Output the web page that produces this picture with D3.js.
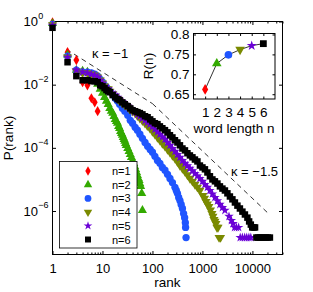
<!DOCTYPE html>
<html>
<head>
<meta charset="utf-8">
<script src="https://d3js.org/d3.v7.min.js"></script>
<style>
  body { margin: 0; background: #fff; }
  svg text { font-family: "Liberation Sans", Arial, Helvetica, sans-serif; fill: #000; }
</style>
</head>
<body>
<div id="chart"></div>
<script>
// ---- data ----
// P(rank) is kept as log10 values, ranks as plain numbers
const seriesLabels = ["n=1", "n=2", "n=3", "n=4", "n=5", "n=6"];
const seriesColors = ["#ff0000", "#33aa00", "#1f55ff", "#7a8a00", "#6a00d6", "#000000"];

const rankN1 = [1, 2, 3, 4, 5, 6, 7, 8];
const logPN1 = [-0.03, -0.97, -1.22, -1.92, -2.02, -2.43, -2.56, -2.84];

const rankN2 = [1, 2, 3, 4, 5, 6, 7, 8, 9, 10, 11, 12, 13, 14, 15, 16, 17, 18, 19, 20,
  21, 22, 23, 24, 25, 26, 27, 28, 29, 30, 32, 34, 36, 38, 40, 42, 44, 46, 48, 50,
  52, 54, 56, 58, 61, 63];
const logPN2 = [-0.06, -1.06, -1.54, -1.57, -1.60, -1.70, -1.83, -1.98, -2.14, -2.27,
  -2.40, -2.52, -2.62, -2.75, -2.84, -2.90, -3.00, -3.10, -3.16, -3.22,
  -3.32, -3.38, -3.48, -3.54, -3.60, -3.67, -3.73, -3.79, -3.86, -3.92,
  -4.02, -4.11, -4.21, -4.30, -4.40, -4.49, -4.59, -4.68, -4.78, -4.87,
  -4.97, -5.03, -5.13, -5.22, -5.44, -5.98];

const rankN3 = [1, 2, 3, 4, 5, 6, 7, 8, 9, 10, 11, 12, 13, 14,
  16, 18, 20, 22, 25, 28, 32, 36, 40, 45,
  50, 56, 63, 71, 80, 90, 100, 112, 126, 141,
  158, 178, 200, 224, 251, 282, 300, 316, 335, 355,
  375, 398, 420, 440, 455, 460, 470];
const logPN3 = [-0.09, -1.10, -1.54, -1.60, -1.60, -1.63, -1.67, -1.73, -1.83, -1.92, -2.02, -2.08, -2.14, -2.21,
  -2.30, -2.43, -2.52, -2.62, -2.75, -2.84, -2.97, -3.13, -3.22, -3.35,
  -3.44, -3.57, -3.70, -3.83, -3.95, -4.05, -4.14, -4.27, -4.40, -4.49,
  -4.62, -4.71, -4.84, -4.97, -5.10, -5.25, -5.35, -5.44, -5.57, -5.67,
  -5.79, -5.92, -6.08, -6.21, -6.37, -6.52, -6.84];

const rankN4 = [1, 2, 3, 4, 5, 6, 7, 8, 9, 10,
  11, 13, 14, 16, 18, 20, 22, 25, 28, 32,
  35, 40, 45, 50, 56, 63, 71, 79, 89, 100,
  112, 126, 141, 158, 178, 200, 224, 251, 282, 316,
  355, 398, 447, 501, 562, 631, 708, 794, 891,
  1023, 1100, 1175, 1260, 1349, 1450, 1549, 1620, 1698, 1780, 1862, 1950, 2050, 2150, 2300];
const logPN4 = [-0.11, -1.13, -1.57, -1.63, -1.63, -1.67, -1.70, -1.76, -1.86, -1.95,
  -2.05, -2.13, -2.21, -2.29, -2.37, -2.44, -2.52, -2.59, -2.65, -2.71,
  -2.78, -2.84, -2.90, -2.98, -3.06, -3.14, -3.22, -3.30, -3.38, -3.48,
  -3.57, -3.67, -3.76, -3.86, -3.95, -4.05, -4.14, -4.24, -4.33, -4.44,
  -4.56, -4.65, -4.75, -4.86, -4.97, -5.06, -5.16, -5.25, -5.35,
  -5.51, -5.60, -5.70, -5.78, -5.86, -5.97, -6.08, -6.17, -6.27, -6.33, -6.40, -6.52, -6.52, -6.84, -6.84];

const rankN5 = [1, 2, 3, 4, 5, 6, 7, 8, 9, 10,
  11, 13, 14, 16, 18, 20, 22, 25, 28, 32,
  35, 40, 45, 50, 56, 63, 71, 79, 89, 100,
  112, 126, 141, 158, 178, 200, 224, 251, 282, 316,
  355, 398, 447, 501, 562, 631, 708, 794, 891, 1000,
  1122, 1259, 1413, 1585, 1778, 1995, 2239, 2512, 2818,
  3400, 3800, 4100, 4400, 4800, 5300, 5700, 6300, 7000, 7700, 8500, 9300];
const logPN5 = [-0.12, -1.13, -1.54, -1.60, -1.63, -1.67, -1.70, -1.76, -1.86, -1.95,
  -2.05, -2.13, -2.21, -2.27, -2.33, -2.40, -2.46, -2.54, -2.62, -2.68,
  -2.75, -2.81, -2.87, -2.94, -3.00, -3.06, -3.13, -3.19, -3.25, -3.33,
  -3.41, -3.49, -3.57, -3.65, -3.73, -3.83, -3.92, -4.02, -4.11, -4.21,
  -4.30, -4.40, -4.49, -4.57, -4.65, -4.73, -4.81, -4.89, -4.97, -5.06,
  -5.16, -5.25, -5.35, -5.46, -5.57, -5.68, -5.79, -5.89, -5.98,
  -6.17, -6.30, -6.40, -6.52, -6.52, -6.52, -6.84, -6.84, -6.84, -6.84, -6.84, -6.84];

const rankN6 = [1, 2, 3, 4, 5, 6, 7, 8, 9, 10, 11, 12, 13, 14,
  16, 18, 20, 22, 25, 28, 32, 36, 40, 45, 50, 56, 63, 71, 80, 90,
  100, 112, 126, 141, 158, 178, 200, 224, 251, 282, 316, 355, 398, 447, 501, 562, 631, 708, 794, 891,
  1000, 1122, 1259, 1413, 1585, 1778, 1995, 2239, 2512, 2818, 3162, 3548, 3981, 4467, 5012, 5623, 6310, 7079, 7943,
  8600, 9300, 9900, 10600, 11300,
  12000, 13000, 14200, 15500, 17000, 18600, 20400, 22400];
const logPN6 = [-0.20, -1.29, -1.73, -1.86, -1.86, -1.89, -1.89, -1.92, -2.02, -2.05, -2.11, -2.17, -2.21, -2.24,
  -2.33, -2.40, -2.46, -2.49, -2.56, -2.62, -2.68, -2.75, -2.81, -2.84, -2.87, -2.90, -2.94, -3.00, -3.03, -3.10,
  -3.16, -3.22, -3.25, -3.32, -3.38, -3.44, -3.51, -3.60, -3.67, -3.76, -3.83, -3.92, -4.02, -4.08, -4.17, -4.24, -4.30, -4.37, -4.43, -4.56,
  -4.62, -4.68, -4.78, -4.90, -5.00, -5.06, -5.13, -5.22, -5.29, -5.35, -5.44, -5.54, -5.63, -5.73, -5.83, -5.92, -6.02, -6.11, -6.21,
  -6.33, -6.43, -6.52, -6.52, -6.52,
  -6.84, -6.84, -6.84, -6.84, -6.84, -6.84, -6.84, -6.84];

// dashed reference slopes
const kappa1Rank = [1.9, 100];
const kappa1P = [0.132, 0.00251];
const kappa15Rank = [100, 20000];
const kappa15P = [0.00251, 8.9e-7];

// inset
const wordLength = [1, 2, 3, 4, 5, 6];
const ratioR = [0.662, 0.727, 0.749, 0.762, 0.772, 0.777];

const xMajor = [1, 10, 100, 1000, 10000];
const yMajor = [1, 1e-2, 1e-4, 1e-6];
const yLabelExp = ["0", "\u22122", "\u22124", "\u22126"];
const insetYTicks = [0.65, 0.7, 0.75, 0.8];
const insetYLabels = ["0.65", "0.7", "0.75", "0.8"];

// ---- layout ----
const W = 313, H = 292;
const svg = d3.select("#chart").append("svg")
  .attr("width", W).attr("height", H);

const x = d3.scaleLog().domain([1, 40000]).range([52.5, 282.5]);
const y = d3.scaleLog().domain([4.2e-8, 1]).range([254.5, 21.5]);

// minor x ticks 2..9 per decade
const xMinor = [];
for (let d = 1; d <= 10000; d *= 10)
  for (let k = 2; k <= 9; k++)
    if (d * k <= 40000) xMinor.push(d * k);

// axes
function noDomain(g) { g.select(".domain").remove(); }

svg.append("g").attr("transform", `translate(0,${y.range()[0]})`)
  .call(d3.axisBottom(x).tickValues(xMajor).tickSize(-3.5).tickPadding(9.5).tickFormat(d3.format("d")))
  .call(noDomain)
  .call(g => g.selectAll("text").attr("font-size", 13).attr("font-family", "Liberation Sans, Arial"));
svg.append("g").attr("transform", `translate(0,${y.range()[0]})`)
  .call(d3.axisBottom(x).tickValues(xMinor).tickSize(-2).tickFormat(""))
  .call(noDomain);
svg.append("g").attr("transform", `translate(0,${y.range()[1]})`)
  .call(d3.axisTop(x).tickValues(xMajor).tickSize(-3.5).tickFormat(""))
  .call(noDomain);
svg.append("g").attr("transform", `translate(0,${y.range()[1]})`)
  .call(d3.axisTop(x).tickValues(xMinor).tickSize(-2).tickFormat(""))
  .call(noDomain);
svg.append("g").attr("transform", `translate(${x.range()[0]},0)`)
  .call(d3.axisLeft(y).tickValues(yMajor).tickSize(-3.5).tickFormat(""))
  .call(noDomain);
svg.append("g").attr("transform", `translate(${x.range()[1]},0)`)
  .call(d3.axisRight(y).tickValues(yMajor).tickSize(-3.5).tickFormat(""))
  .call(noDomain);
svg.selectAll(".tick line").attr("stroke", "#000");

// y labels 10^k
yMajor.forEach((v, i) => {
  svg.append("text").attr("x", 38).attr("y", y(v) + 4.6)
    .attr("text-anchor", "end").attr("font-size", 13).text("10");
  svg.append("text").attr("x", 38.3).attr("y", y(v) - 2.8)
    .attr("font-size", 9).text(yLabelExp[i]);
});

// frame
svg.append("rect")
  .attr("x", x.range()[0]).attr("y", y.range()[1])
  .attr("width", x.range()[1] - x.range()[0])
  .attr("height", y.range()[0] - y.range()[1])
  .attr("fill", "none").attr("stroke", "#000").attr("stroke-width", 1);

// axis titles
svg.append("text").attr("x", 167.5).attr("y", 287).attr("text-anchor", "middle")
  .attr("font-size", 13.5).text("rank");
svg.append("text").attr("transform", "translate(13,138) rotate(-90)").attr("text-anchor", "middle")
  .attr("font-size", 13.5).text("P(rank)");

// dashed slope guides
const guide = d3.line().x(d => x(d[0])).y(d => y(d[1]));
[[kappa1Rank, kappa1P], [kappa15Rank, kappa15P]].forEach(([r, p]) => {
  svg.append("path").datum(d3.zip(r, p))
    .attr("d", guide).attr("fill", "none")
    .attr("stroke", "#000").attr("stroke-width", 0.8)
    .attr("stroke-dasharray", "5,4");
});
svg.append("text").attr("x", 92).attr("y", 57.5).attr("font-size", 13).text("\u03ba = \u22121");
svg.append("text").attr("x", 231).attr("y", 175.5).attr("font-size", 13).text("\u03ba = \u22121.5");

// ---- data series ----
const symbols = [d3.symbolDiamond, d3.symbolTriangle, d3.symbolCircle, d3.symbolTriangle, d3.symbolStar, d3.symbolSquare];
const symbolSizes = [30, 36, 42, 36, 28, 42];
const rotations = [0, 0, 0, 180, 0, 0];
const ranks = [rankN1, rankN2, rankN3, rankN4, rankN5, rankN6];
const logPs = [logPN1, logPN2, logPN3, logPN4, logPN5, logPN6];

ranks.forEach((r, i) => {
  const sym = d3.symbol().type(symbols[i]).size(symbolSizes[i]);
  svg.append("g").selectAll("path")
    .data(d3.zip(r, logPs[i]))
    .join("path")
    .attr("transform", d => `translate(${x(d[0])},${y(Math.pow(10, d[1]))}) rotate(${rotations[i]})`)
    .attr("d", sym)
    .attr("fill", seriesColors[i]);
});

// ---- legend ----
const legend = svg.append("g");
legend.append("rect").attr("x", 59.5).attr("y", 161.5).attr("width", 77.5).attr("height", 86.5)
  .attr("fill", "#fff").attr("stroke", "#000").attr("stroke-width", 0.8);
seriesLabels.forEach((lab, i) => {
  const ly = 171 + i * 13.7;
  legend.append("path")
    .attr("transform", `translate(88,${ly}) rotate(${rotations[i]})`)
    .attr("d", d3.symbol().type(symbols[i]).size(symbolSizes[i] * 0.85)())
    .attr("fill", seriesColors[i]);
  legend.append("text").attr("x", 112).attr("y", ly + 4).attr("font-size", 11).text(lab);
});

// ---- inset ----
const ix = d3.scaleLinear().domain([0, 7]).range([193.5, 275]);
const iy = d3.scaleLinear().domain([0.638, 0.8025]).range([99, 33.5]);
const inset = svg.append("g");
inset.append("rect").attr("x", 193.5).attr("y", 33.5).attr("width", 81.5).attr("height", 65.5)
  .attr("fill", "#fff");
inset.append("g").attr("transform", "translate(0,99)")
  .call(d3.axisBottom(ix).tickValues(wordLength).tickSize(-2.5).tickPadding(8).tickFormat(d3.format("d")))
  .call(noDomain)
  .call(g => g.selectAll("text").attr("font-size", 13.5).attr("font-family", "Liberation Sans, Arial"));
inset.append("g").attr("transform", "translate(0,33.5)")
  .call(d3.axisTop(ix).tickValues(wordLength).tickSize(-2.5).tickFormat(""))
  .call(noDomain);
inset.append("g").attr("transform", "translate(193.5,0)")
  .call(d3.axisLeft(iy).tickValues(insetYTicks).tickSize(-2.5).tickFormat(""))
  .call(noDomain);
inset.append("g").attr("transform", "translate(275,0)")
  .call(d3.axisRight(iy).tickValues(insetYTicks).tickSize(-2.5).tickFormat(""))
  .call(noDomain);
insetYTicks.forEach((v, i) => {
  inset.append("text").attr("x", 189.5).attr("y", iy(v) + 4.8)
    .attr("text-anchor", "end").attr("font-size", 13.5).text(insetYLabels[i]);
});
inset.selectAll(".tick line").attr("stroke", "#000");
inset.append("rect").attr("x", 193.5).attr("y", 33.5).attr("width", 81.5).attr("height", 65.5)
  .attr("fill", "none").attr("stroke", "#000").attr("stroke-width", 1);

inset.append("path").datum(d3.zip(wordLength, ratioR))
  .attr("d", d3.line().x(d => ix(d[0])).y(d => iy(d[1])))
  .attr("fill", "none").attr("stroke", "#000").attr("stroke-width", 0.8);
wordLength.forEach((n, i) => {
  inset.append("path")
    .attr("transform", `translate(${ix(n)},${iy(ratioR[i])}) rotate(${rotations[i]})`)
    .attr("d", d3.symbol().type(symbols[i]).size(symbolSizes[i] * 1.1)())
    .attr("fill", seriesColors[i]);
});
inset.append("text").attr("x", 234).attr("y", 132.5).attr("text-anchor", "middle")
  .attr("font-size", 13.5).text("word length n");
inset.append("text").attr("transform", "translate(152.5,66) rotate(-90)").attr("text-anchor", "middle")
  .attr("font-size", 13.5).text("R(n)");
</script>
</body>
</html>
